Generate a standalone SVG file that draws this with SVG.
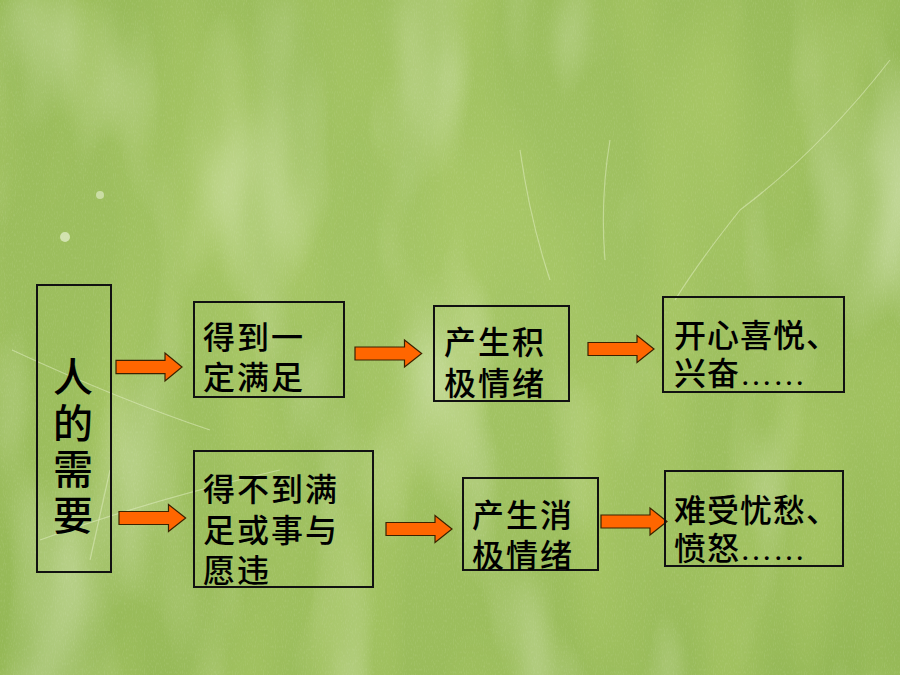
<svg xmlns="http://www.w3.org/2000/svg" xmlns:xlink="http://www.w3.org/1999/xlink" width="900" height="675" viewBox="0 0 900 675">
<defs>
<style>
.box{fill:none;stroke:#111;stroke-width:2}
.t{font-family:"Liberation Sans","Noto Sans CJK SC","Noto Sans CJK TC",sans-serif;font-size:32px;font-weight:500;fill:#000}
.big{font-family:"Noto Sans CJK SC","Noto Sans CJK TC",sans-serif;font-size:40px}
.dots{font-family:"Liberation Serif",serif}
.arr{fill:#ff6600;stroke:#3a2200;stroke-width:1.2;stroke-linejoin:miter}
.scr{fill:none;stroke:#e6f2c8;stroke-width:1.2;opacity:0.5}
</style>
<path id="arr" d="M0,-6.5 H49 V-13.5 L66,0 L49,13.5 V6.5 H0 Z"/>
<radialGradient id="bgg" cx="50%" cy="45%" r="75%">
<stop offset="0" stop-color="#a4c566"/>
<stop offset="0.7" stop-color="#9bbd5c"/>
<stop offset="1" stop-color="#93b755"/>
</radialGradient>
<filter id="blot" x="0" y="0" width="100%" height="100%">
<feTurbulence type="fractalNoise" baseFrequency="0.008 0.003" numOctaves="3" seed="7" result="n"/>
<feColorMatrix in="n" type="matrix" values="0 0 0 0 0.86  0 0 0 0 0.92  0 0 0 0 0.72  1.3 0 0 0 -0.66"/>
</filter>
<filter id="dark" x="0" y="0" width="100%" height="100%">
<feTurbulence type="fractalNoise" baseFrequency="0.01 0.003" numOctaves="2" seed="21" result="n"/>
<feColorMatrix in="n" type="matrix" values="0 0 0 0 0.45  0 0 0 0 0.62  0 0 0 0 0.15  0 1.4 0 0 -0.6"/>
</filter>
<filter id="grain" x="0" y="0" width="100%" height="100%">
<feTurbulence type="fractalNoise" baseFrequency="0.9 0.35" numOctaves="1" seed="3" result="n"/>
<feColorMatrix in="n" type="matrix" values="0 0 0 0 0.9  0 0 0 0 0.95  0 0 0 0 0.8  0.9 0 0 0 -0.45"/>
</filter>
</defs>
<g id="background">
<rect width="900" height="675" fill="url(#bgg)"/>
<rect width="900" height="675" filter="url(#dark)"/>
<rect width="900" height="675" filter="url(#blot)"/>
<rect width="900" height="675" filter="url(#grain)" opacity="0.35"/>
<path class="scr" d="M520,150 Q530,220 550,280"/>
<path class="scr" d="M610,140 Q600,200 605,260"/>
<path class="scr" d="M890,60 Q820,150 740,210 Q700,260 675,300"/>
<path class="scr" d="M12,350 Q120,400 210,430"/>
<path class="scr" d="M40,540 Q150,500 280,470"/>
<path class="scr" d="M90,560 L110,470"/>
<circle cx="65" cy="237" r="5" fill="#e8f2d2" opacity="0.7"/>
<circle cx="100" cy="195" r="4" fill="#e8f2d2" opacity="0.6"/>
</g>
<g id="connectors">
<use href="#arr" class="arr" transform="translate(116,367) scale(1,1.03)"/>
<use href="#arr" class="arr" transform="translate(355,353.5) scale(1.01,1)"/>
<use href="#arr" class="arr" transform="translate(588,349)"/>
<use href="#arr" class="arr" transform="translate(119,518) scale(1.01,1)"/>
<use href="#arr" class="arr" transform="translate(386,529)"/>
<use href="#arr" class="arr" transform="translate(601,521.5)"/>
</g>
<g id="node-need">
<rect class="box" x="37" y="285" width="74" height="287"/>
<text class="t big" x="73" y="357" writing-mode="vertical-rl" letter-spacing="6">人的需要</text>
</g>
<g id="node-satisfied">
<rect class="box" x="194" y="302" width="150" height="95"/>
<text class="t" letter-spacing="2"><tspan x="203" y="349">得到一</tspan><tspan x="203" y="389">定满足</tspan></text>
</g>
<g id="node-positive">
<rect class="box" x="434" y="306" width="135" height="95"/>
<text class="t" letter-spacing="2"><tspan x="444" y="354">产生积</tspan><tspan x="444" y="395">极情绪</tspan></text>
</g>
<g id="node-happy">
<rect class="box" x="663" y="297" width="181" height="95"/>
<text class="t" letter-spacing="1"><tspan x="674" y="347">开心喜悦、</tspan><tspan x="674" y="385">兴奋<tspan class="dots">……</tspan></tspan></text>
</g>
<g id="node-unsatisfied">
<rect class="box" x="194" y="451" width="179" height="136"/>
<text class="t" letter-spacing="2"><tspan x="203" y="501">得不到满</tspan><tspan x="203" y="542">足或事与</tspan><tspan x="203" y="582">愿违</tspan></text>
</g>
<g id="node-negative">
<rect class="box" x="463" y="478" width="135" height="92"/>
<text class="t" letter-spacing="2"><tspan x="472" y="527">产生消</tspan><tspan x="472" y="567">极情绪</tspan></text>
</g>
<g id="node-sad">
<rect class="box" x="665" y="471" width="178" height="95"/>
<text class="t" letter-spacing="1"><tspan x="674" y="522">难受忧愁、</tspan><tspan x="674" y="560">愤怒<tspan class="dots">……</tspan></tspan></text>
</g>
</svg>
